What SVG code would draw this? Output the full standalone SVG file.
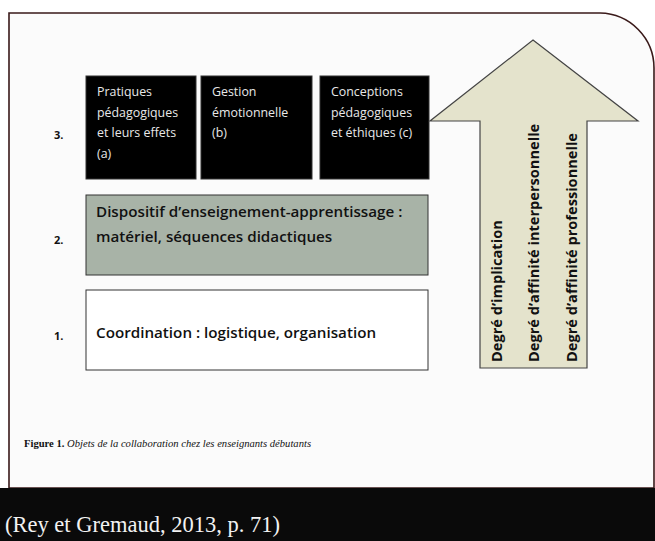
<svg xmlns="http://www.w3.org/2000/svg" width="655" height="541" viewBox="0 0 655 541">
<style>
.box{stroke:#333;stroke-width:1}
.t{font-family:"Open Sans","Liberation Sans",sans-serif;font-size:12.4px;fill:#e8e8e8}
.m{font-family:"Open Sans","Liberation Sans",sans-serif;font-size:15.2px;fill:#111;font-weight:600}
.n{font-family:"Open Sans","Liberation Sans",sans-serif;font-size:11px;fill:#111;font-weight:bold}
.v{font-family:"Open Sans","Liberation Sans",sans-serif;font-size:14.6px;fill:#111;font-weight:bold}
</style>
<rect width="655" height="541" fill="#ffffff"/>
<path d="M9,488 V13 H600 A55,55 0 0 1 654,68 V488 Z" fill="#fbfbfb" stroke="#3a1a1a" stroke-width="1.6"/>
<g id="connectors"/>
<g id="n3a">
<rect class="box" x="86" y="76" width="110" height="103" fill="#000"/>
<text class="t" x="97" y="96">Pratiques</text>
<text class="t" x="97" y="117">pédagogiques</text>
<text class="t" x="97" y="137">et leurs effets</text>
<text class="t" x="97" y="158">(a)</text>
</g>
<g id="n3b">
<rect class="box" x="201" y="76" width="111" height="103" fill="#000"/>
<text class="t" x="212" y="96">Gestion</text>
<text class="t" x="212" y="117">émotionnelle</text>
<text class="t" x="212" y="137">(b)</text>
</g>
<g id="n3c">
<rect class="box" x="320" y="76" width="109" height="103" fill="#000"/>
<text class="t" x="331" y="96">Conceptions</text>
<text class="t" x="331" y="117">pédagogiques</text>
<text class="t" x="331" y="137">et éthiques (c)</text>
</g>
<text class="n" x="54" y="139">3.</text>
<g id="n2">
<rect class="box" x="86" y="195" width="342" height="80" fill="#a8b3a7"/>
<text class="m" x="96" y="217">Dispositif d’enseignement-apprentissage :</text>
<text class="m" x="96" y="242">matériel, séquences didactiques</text>
</g>
<text class="n" x="54" y="244">2.</text>
<g id="n1">
<rect class="box" x="86" y="290" width="342" height="80" fill="#ffffff"/>
<text class="m" x="96" y="338">Coordination : logistique, organisation</text>
</g>
<text class="n" x="54" y="340">1.</text>
<g id="arrow">
<path d="M533,40 L638,121 H587 V368 H480 V121 H430 Z" fill="#e4e3cc" stroke="#444" stroke-width="1.2"/>
<text class="v" transform="translate(502,362) rotate(-90)">Degré d’implication</text>
<text class="v" transform="translate(539,362) rotate(-90)">Degré d’affinité interpersonnelle</text>
<text class="v" transform="translate(577,362) rotate(-90)">Degré d’affinité professionnelle</text>
</g>
<text x="24" y="447" font-family="Liberation Serif,serif" font-size="10.6" fill="#111"><tspan font-weight="bold">Figure 1.</tspan> <tspan font-style="italic">Objets de la collaboration chez les enseignants débutants</tspan></text>
<rect x="0" y="488" width="655" height="53" fill="#0a0a0a"/>
<text x="5" y="532" font-family="Liberation Serif,serif" font-size="23" fill="#f2f2f2" textLength="275" lengthAdjust="spacingAndGlyphs">(Rey et Gremaud, 2013, p. 71)</text>
</svg>
